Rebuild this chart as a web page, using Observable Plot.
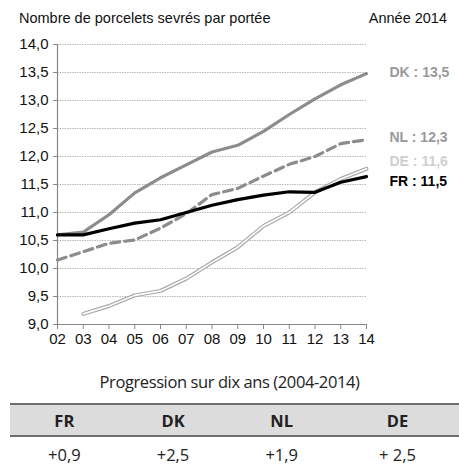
<!DOCTYPE html>
<html><head><meta charset="utf-8">
<script src="https://cdn.jsdelivr.net/npm/d3@7"></script>
<script src="https://cdn.jsdelivr.net/npm/@observablehq/plot@0.6"></script>
<style>
body{margin:0;background:#fff;font-family:"Liberation Sans",Arial,sans-serif;}
#wrap{width:459px;position:relative;}
#head{height:30px;position:relative;font-size:14.5px;color:#111;}
#t1{position:absolute;left:19px;top:10px;}
#t2{position:absolute;right:12px;top:10px;}
#sub{font-family:"Open Sans",sans-serif;font-size:16.5px;text-align:center;width:459px;margin-top:20px;height:33px;color:#222;letter-spacing:-0.4px;}
table{border-collapse:collapse;margin-left:10px;width:449px;font-family:"Open Sans",sans-serif;font-size:16.5px;color:#222;}
th{background:#dcdcdc;border-top:2px solid #6e6e6e;border-bottom:2px solid #6e6e6e;height:30px;font-weight:700;padding:0;}
td{text-align:center;height:34px;padding:0;}
</style></head>
<body><div id="wrap">
<div id="head"><span id="t1">Nombre de porcelets sevrés par portée</span><span id="t2">Année 2014</span></div>
<div id="chart"></div>
<div id="sub">Progression sur dix ans (2004-2014)</div>
<table id="tab"></table>
</div>
<script>
const years = [2002,2003,2004,2005,2006,2007,2008,2009,2010,2011,2012,2013,2014];
const FR = [10.6,10.6,10.71,10.81,10.87,11.0,11.13,11.23,11.31,11.37,11.36,11.54,11.64];
const DK = [10.6,10.65,10.96,11.35,11.62,11.85,12.08,12.2,12.45,12.75,13.03,13.28,13.48];
const NL = [10.15,10.3,10.45,10.51,10.72,10.98,11.32,11.43,11.65,11.86,12.0,12.23,12.3];
const DE = [null,9.19,9.33,9.52,9.6,9.82,10.11,10.38,10.76,11.0,11.36,11.6,11.78];
const yTicks = [9,9.5,10,10.5,11,11.5,12,12.5,13,13.5,14];
const endLabels = ["DK : 13,5","NL : 12,3","DE : 11,6","FR : 11,5"];
const endValues = [13.5,12.3,11.6,11.5];
const endColors = ["#999999","#999999","#cfcfcf","#000000"];
const countries = ["FR","DK","NL","DE"];
const progression = ["+0,9","+2,5","+1,9","+ 2,5"];

const rows = (vals) => years.map((y,i)=>({year:y, v:vals[i]})).filter(d=>d.v!=null);
const fmt = d => d.toFixed(1).replace(".", ",");
const labelShift = [0, -2.5, -17, -2.5];
const labelMarks = endLabels.map((t, i) =>
  Plot.text([{t, v: endValues[i]}], {x: () => 2014, y: "v", text: "t", fill: endColors[i], dx: 23, dy: labelShift[i], textAnchor: "start", fontWeight: "bold", fontSize: 14})
);

const chart = Plot.plot({
  width: 459, height: 320,
  marginLeft: 57, marginRight: 93, marginTop: 14, marginBottom: 26,
  style: {fontFamily: "'Liberation Sans', Arial, sans-serif", fontSize: "15px", color: "#111", overflow: "visible"},
  x: {domain: [2002, 2014]},
  y: {domain: [9, 14]},
  marks: [
    Plot.gridY(yTicks, {stroke: "#a8a8a8", strokeOpacity: 1, strokeWidth: 0.8, strokeDasharray: "1.5,1"}),
    Plot.axisY(yTicks, {tickFormat: fmt, tickSize: 4, tickPadding: 5, stroke: "#888", fill: "#111", label: null}),
    Plot.axisX(years, {tickFormat: d => String(d % 100).padStart(2, "0"), tickSize: 5, tickPadding: 4, stroke: "#888", fill: "#111", label: null}),
    Plot.ruleX([2002], {stroke: "#888", strokeWidth: 1.2}),
    Plot.ruleY([9], {stroke: "#888", strokeWidth: 1.2}),
    Plot.line(rows(DE), {x: "year", y: "v", stroke: "#a8a8a8", strokeWidth: 4}),
    Plot.line(rows(DE), {x: "year", y: "v", stroke: "#ffffff", strokeWidth: 1.6}),
    Plot.line(rows(NL), {x: "year", y: "v", stroke: "#8c8c8c", strokeWidth: 3.2, strokeDasharray: "9,5"}),
    Plot.line(rows(DK), {x: "year", y: "v", stroke: "#8c8c8c", strokeWidth: 3.2}),
    Plot.line(rows(FR), {x: "year", y: "v", stroke: "#000000", strokeWidth: 3.2}),
    ...labelMarks
  ]
});
document.getElementById("chart").appendChild(chart);

const tab = document.getElementById("tab");
tab.innerHTML = "<tr>" + countries.map(c => `<th>${c}</th>`).join("") + "</tr>" +
  "<tr>" + progression.map(p => `<td>${p}</td>`).join("") + "</tr>";
</script>
</body></html>
